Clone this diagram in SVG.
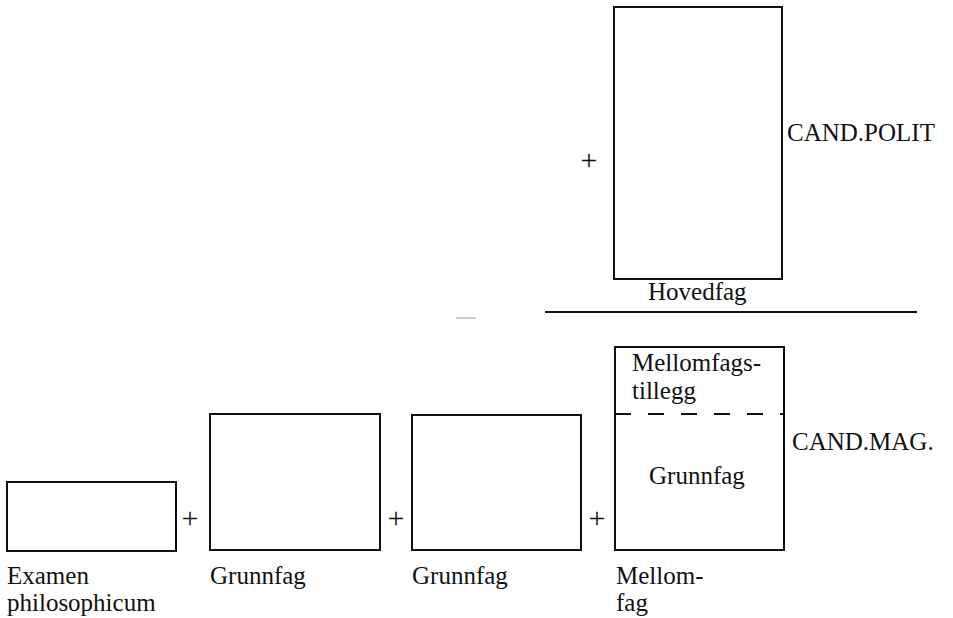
<svg xmlns="http://www.w3.org/2000/svg" width="953" height="618" viewBox="0 0 953 618">
<style>
.b{fill:none;stroke:#111;stroke-width:2}
.t{font-family:"Liberation Serif","Times New Roman",serif;font-size:25px;fill:#111}
.p{font-family:"Liberation Serif","Times New Roman",serif;font-size:30px;fill:#111;text-anchor:middle}
.l{stroke:#111;stroke-width:2}
</style>
<rect width="953" height="618" fill="#fff"/>
<g id="hovedfag">
<rect class="b" x="614" y="7" width="168" height="272"/>
<text class="t" x="648" y="300">Hovedfag</text>
</g>
<g id="cand-polit"><text class="t" x="787" y="141">CAND.POLIT</text></g>
<g id="plus-top"><text class="p" x="589" y="170">+</text></g>
<g id="divider">
<line class="l" x1="545" y1="312" x2="917" y2="312"/>
<line x1="456" y1="318" x2="476" y2="318" stroke="#bbb" stroke-width="1.5"/>
</g>
<g id="examen">
<rect class="b" x="7" y="482" width="169" height="69"/>
<text class="t" x="7" y="584">Examen</text>
<text class="t" x="7" y="611">philosophicum</text>
</g>
<g id="grunnfag1">
<rect class="b" x="210" y="414" width="170" height="136"/>
<text class="t" x="210" y="584">Grunnfag</text>
</g>
<g id="grunnfag2">
<rect class="b" x="412" y="415" width="169" height="135"/>
<text class="t" x="412" y="584">Grunnfag</text>
</g>
<g id="mellomfag">
<rect class="b" x="615" y="347" width="169" height="203"/>
<line x1="615" y1="414" x2="784" y2="414" stroke="#111" stroke-width="2" stroke-dasharray="16,17"/>
<text class="t" x="632" y="371">Mellomfags-</text>
<text class="t" x="632" y="399">tillegg</text>
<text class="t" x="649" y="484">Grunnfag</text>
<text class="t" x="616" y="584">Mellom-</text>
<text class="t" x="616" y="611">fag</text>
</g>
<g id="cand-mag"><text class="t" x="792" y="450">CAND.MAG.</text></g>
<g id="connectors">
<text class="p" x="190" y="528">+</text>
<text class="p" x="396" y="528">+</text>
<text class="p" x="597" y="528">+</text>
</g>
</svg>
